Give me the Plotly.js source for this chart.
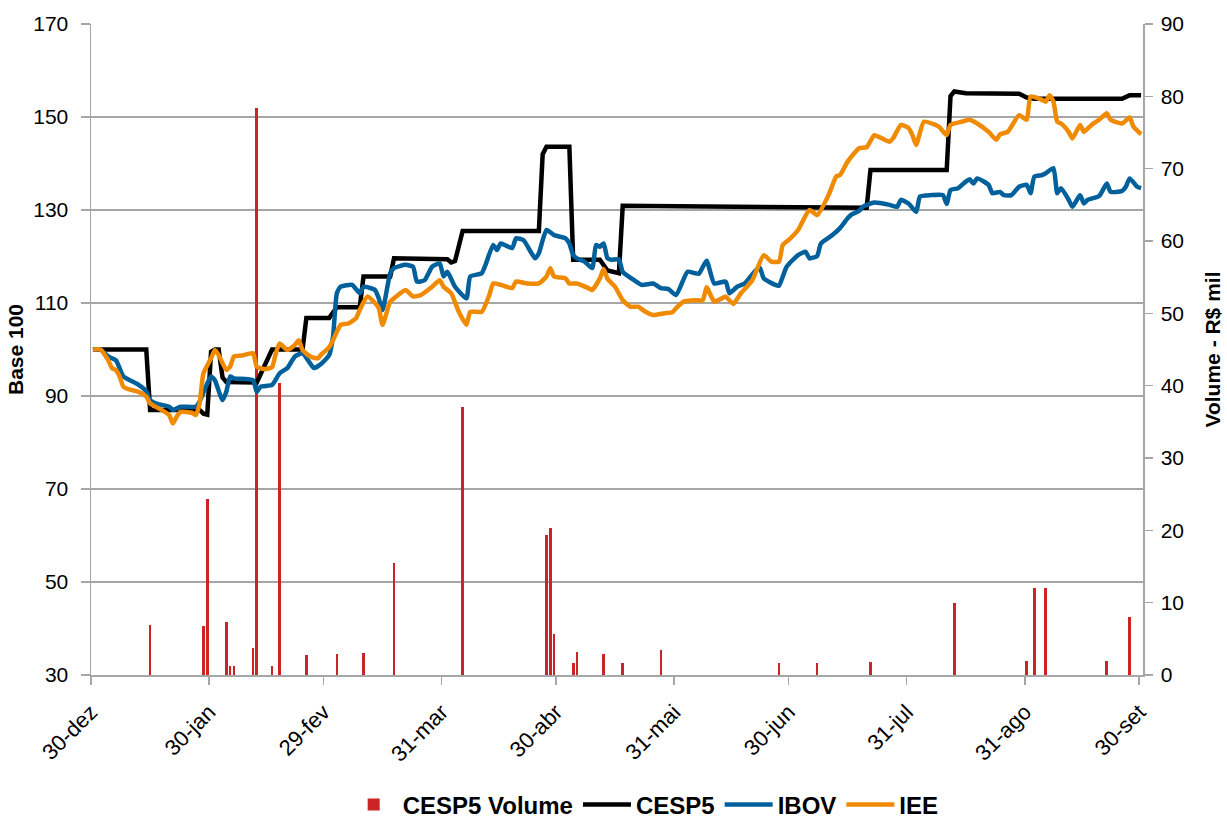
<!DOCTYPE html>
<html>
<head>
<meta charset="utf-8">
<script src="https://cdn.plot.ly/plotly-3.0.1.min.js"></script>
<style>html,body{margin:0;padding:0;background:#fff;}#chart{width:1227px;height:818px;}</style>
</head>
<body>
<div id="chart"></div>
<script>
// ---- Data ----
const tickDates = ['2011-12-30','2012-01-30','2012-02-29','2012-03-31','2012-04-30','2012-05-31','2012-06-30','2012-07-31','2012-08-31','2012-09-30'];
const tickLabels = ['30-dez','30-jan','29-fev','31-mar','30-abr','31-mai','30-jun','31-jul','31-ago','30-set'];

// CESP5 volume (R$ mil)
const volDates = ['2012-01-14','2012-01-28','2012-01-29','2012-02-03','2012-02-04','2012-02-05','2012-02-10','2012-02-11','2012-02-15','2012-02-17','2012-02-24','2012-03-03','2012-03-10','2012-03-18','2012-04-05','2012-04-27','2012-04-28','2012-04-29','2012-05-04','2012-05-05','2012-05-12','2012-05-17','2012-05-27','2012-06-27','2012-07-07','2012-07-21','2012-08-12','2012-08-31','2012-09-02','2012-09-05','2012-09-21','2012-09-27'];
const volValues = [6.9,6.8,24.3,7.3,1.3,1.3,3.7,78.4,1.3,40.4,2.8,2.9,3.1,15.5,37,19.3,20.3,5.7,1.6,3.2,2.9,1.7,3.4,1.7,1.7,1.8,10,2.0,12,12,2,8];

// CESP5 (base 100)
const cespDates = ['2011-12-30','2012-01-13','2012-01-14','2012-01-27','2012-01-28','2012-01-29','2012-01-30','2012-01-31','2012-02-01','2012-02-02','2012-02-03','2012-02-11','2012-02-15','2012-02-23','2012-02-24','2012-03-01','2012-03-03','2012-03-09','2012-03-10','2012-03-17','2012-03-18','2012-04-01','2012-04-02','2012-04-03','2012-04-05','2012-04-25','2012-04-26','2012-04-27','2012-05-03','2012-05-04','2012-05-11','2012-05-13','2012-05-16','2012-05-17','2012-07-20','2012-07-21','2012-08-10','2012-08-11','2012-08-12','2012-08-15','2012-08-29','2012-08-31','2012-09-02','2012-09-25','2012-09-27','2012-09-30'];
const cespValues = [100,100,87,87,86.2,86,99.5,100,100,94,93,92.9,100,100,106.8,106.8,109.1,109.1,115.7,115.7,119.6,119.4,118.7,119,125.5,125.5,142,143.6,143.6,119.3,119.3,117,116.4,130.9,130.5,138.6,138.6,154.5,155.5,155.1,155,154.2,153.9,153.9,154.7,154.7];

// IBOV (base 100)
const ibovDates = ['2011-12-30','2012-01-01','2012-01-03','2012-01-05','2012-01-06','2012-01-07','2012-01-11','2012-01-13','2012-01-14','2012-01-16','2012-01-19','2012-01-20','2012-01-22','2012-01-26','2012-01-27','2012-01-29','2012-01-30','2012-01-31','2012-02-02','2012-02-03','2012-02-04','2012-02-05','2012-02-10','2012-02-11','2012-02-12','2012-02-15','2012-02-17','2012-02-19','2012-02-21','2012-02-23','2012-02-25','2012-02-26','2012-02-28','2012-03-01','2012-03-02','2012-03-03','2012-03-04','2012-03-07','2012-03-09','2012-03-10','2012-03-13','2012-03-14','2012-03-15','2012-03-17','2012-03-18','2012-03-21','2012-03-23','2012-03-24','2012-03-26','2012-03-28','2012-03-30','2012-03-31','2012-04-01','2012-04-03','2012-04-06','2012-04-07','2012-04-10','2012-04-11','2012-04-13','2012-04-14','2012-04-15','2012-04-18','2012-04-19','2012-04-21','2012-04-24','2012-04-25','2012-04-27','2012-04-29','2012-05-02','2012-05-03','2012-05-04','2012-05-05','2012-05-07','2012-05-09','2012-05-10','2012-05-11','2012-05-12','2012-05-13','2012-05-14','2012-05-16','2012-05-17','2012-05-20','2012-05-22','2012-05-25','2012-05-27','2012-05-29','2012-05-31','2012-06-03','2012-06-05','2012-06-06','2012-06-08','2012-06-10','2012-06-13','2012-06-14','2012-06-16','2012-06-18','2012-06-21','2012-06-22','2012-06-23','2012-06-26','2012-06-27','2012-06-29','2012-07-02','2012-07-04','2012-07-05','2012-07-07','2012-07-08','2012-07-11','2012-07-13','2012-07-15','2012-07-16','2012-07-18','2012-07-19','2012-07-22','2012-07-26','2012-07-28','2012-07-29','2012-07-31','2012-08-02','2012-08-03','2012-08-06','2012-08-09','2012-08-10','2012-08-11','2012-08-13','2012-08-15','2012-08-16','2012-08-17','2012-08-18','2012-08-21','2012-08-22','2012-08-24','2012-08-25','2012-08-27','2012-08-29','2012-08-31','2012-09-01','2012-09-02','2012-09-04','2012-09-05','2012-09-07','2012-09-08','2012-09-09','2012-09-11','2012-09-12','2012-09-14','2012-09-15','2012-09-16','2012-09-19','2012-09-21','2012-09-22','2012-09-25','2012-09-26','2012-09-27','2012-09-29','2012-09-30'];
const ibovValues = [100,100,98.5,97.7,96,94.2,92.4,91,89.1,88.3,87.7,87,87.7,87.7,88.8,92.7,94.2,93.4,89.1,90.9,94.2,93.8,93.4,90.9,92,92.4,94.9,96,98.5,99.2,97,96,97,98.8,102.8,112.1,113.5,113.9,112.1,113.5,112.8,111,108.5,116.4,117.5,118.2,117.8,114.6,114.9,117.8,118.5,115.7,116.7,113.5,111,115.7,116.4,118.2,122.5,121.4,122.8,121.8,123.9,123.5,119.6,120.7,125.7,124.6,123.9,122.8,120.3,119.6,118.9,117.5,122.5,122.1,122.8,119.6,119.3,119.4,116.7,114.9,113.9,114.2,113.2,113,111.7,116.7,116.4,116.3,119.1,114.2,114.6,112.1,113.5,114.2,117.1,117.5,115.3,113.9,113.7,117.8,120.3,121,119.6,120.1,122.8,124.6,126.1,128.2,129,129.8,130.7,131.6,131.1,130.7,132.2,131.4,129.6,132.9,133.2,133.2,131.3,134.3,134.7,136.1,136.6,135.7,136.8,135.4,133.6,133.9,133.2,133.2,135,135.4,133.6,137.2,137.5,137.9,139,133.6,134.7,132.2,130.7,133.2,131.4,132.2,133,135.7,133.9,134.1,135,136.8,135,134.7];

// IEE (base 100)
const ieeDates = ['2011-12-30','2012-01-01','2012-01-03','2012-01-04','2012-01-05','2012-01-06','2012-01-07','2012-01-09','2012-01-11','2012-01-13','2012-01-14','2012-01-17','2012-01-19','2012-01-20','2012-01-21','2012-01-22','2012-01-25','2012-01-26','2012-01-27','2012-01-28','2012-01-30','2012-01-31','2012-02-01','2012-02-03','2012-02-04','2012-02-05','2012-02-07','2012-02-10','2012-02-11','2012-02-13','2012-02-15','2012-02-16','2012-02-17','2012-02-19','2012-02-21','2012-02-22','2012-02-23','2012-02-25','2012-02-27','2012-02-28','2012-03-01','2012-03-02','2012-03-04','2012-03-06','2012-03-08','2012-03-09','2012-03-11','2012-03-13','2012-03-14','2012-03-15','2012-03-17','2012-03-18','2012-03-21','2012-03-23','2012-03-25','2012-03-28','2012-03-30','2012-03-31','2012-04-02','2012-04-04','2012-04-06','2012-04-07','2012-04-10','2012-04-12','2012-04-13','2012-04-15','2012-04-18','2012-04-19','2012-04-22','2012-04-25','2012-04-27','2012-04-28','2012-04-29','2012-05-02','2012-05-03','2012-05-05','2012-05-08','2012-05-09','2012-05-11','2012-05-12','2012-05-13','2012-05-15','2012-05-17','2012-05-19','2012-05-21','2012-05-23','2012-05-25','2012-05-28','2012-05-30','2012-05-31','2012-06-02','2012-06-05','2012-06-07','2012-06-08','2012-06-10','2012-06-12','2012-06-13','2012-06-15','2012-06-17','2012-06-20','2012-06-23','2012-06-25','2012-06-27','2012-06-28','2012-06-30','2012-07-02','2012-07-05','2012-07-07','2012-07-10','2012-07-12','2012-07-13','2012-07-15','2012-07-18','2012-07-20','2012-07-22','2012-07-24','2012-07-26','2012-07-27','2012-07-29','2012-07-31','2012-08-01','2012-08-02','2012-08-04','2012-08-07','2012-08-08','2012-08-10','2012-08-11','2012-08-14','2012-08-16','2012-08-18','2012-08-21','2012-08-23','2012-08-24','2012-08-26','2012-08-29','2012-08-31','2012-09-01','2012-09-04','2012-09-05','2012-09-06','2012-09-07','2012-09-08','2012-09-09','2012-09-11','2012-09-12','2012-09-14','2012-09-15','2012-09-17','2012-09-19','2012-09-21','2012-09-22','2012-09-25','2012-09-27','2012-09-28','2012-09-30'];
const ieeValues = [100,100,97.7,96,95.6,94.2,92,91.3,90.9,89.9,88.4,87,85.9,84.1,85.6,86.6,86.4,85.9,88.4,94.9,98.1,99.9,98.8,95.6,96.3,98.5,98.7,99.2,96.3,95.8,96.2,99.2,101.3,99.9,101,102,99.9,98.5,98.1,99,100.5,102,105.3,105.6,106.7,108.5,111.4,110,108.9,105.3,110.3,111,112.8,111.4,111.7,113.5,114.9,113.5,112.1,108.1,105.3,108.1,108.1,111.7,114.2,113.9,113.2,114.6,114.2,114.2,115.7,117.5,115.7,115.3,114.2,114.2,113.2,112.8,115.3,117.3,115.2,113.5,110.6,109.2,109.2,108.1,107.4,107.8,108,108.9,110.3,110.6,110.6,113.4,110.3,111,111.4,109.8,112.1,114.9,120.3,118.9,118.9,122.5,123.9,125.7,130,128.9,133.2,137.2,137.5,140.4,143.3,143.5,146.1,145.4,144.7,145.5,148.3,147.6,146.1,144,149,148.3,147.9,146.1,148.3,149,149.4,148.6,146.8,145.1,146.3,146.8,150.4,149.4,154.4,153.7,153.3,154.7,153.3,149,148.6,146.8,145.4,148.3,146.8,148.3,149.4,150.8,149.4,148.6,149.9,147.9,146.3];

// Excel date axis "between tick marks": each day is drawn at the middle of its slot
const mid = arr => arr.map(d => d + ' 12:00');
const DAY = 86400000;

const FONT = 'Liberation Sans, Arial, sans-serif';
const GRID = '#a6a6a6';

const traces = [
  {type:'bar', name:'CESP5 Volume', x: mid(volDates), y: volValues, yaxis:'y',
   width: 0.7*DAY, marker:{color:'#cc2424', line:{width:0}}},
  {type:'scatter', mode:'lines', name:'CESP5', x: mid(cespDates), y: cespValues, yaxis:'y2',
   line:{color:'#000000', width:4.5}},
  {type:'scatter', mode:'lines', name:'IBOV', x: mid(ibovDates), y: ibovValues, yaxis:'y2',
   line:{color:'#00609c', width:4.5, shape:'spline', smoothing:0.5}},
  {type:'scatter', mode:'lines', name:'IEE', x: mid(ieeDates), y: ieeValues, yaxis:'y2',
   line:{color:'#f08a00', width:4.5, shape:'spline', smoothing:0.5}}
];

const layout = {
  width:1227, height:818,
  margin:{l:91, r:84, t:24, b:143, pad:0, autoexpand:false},
  paper_bgcolor:'#ffffff', plot_bgcolor:'#ffffff',
  font:{family:FONT, size:21, color:'#000'},
  showlegend:true,
  legend:{orientation:'h', xref:'container', yref:'container', x:0.525, xanchor:'center', y:0.016, yanchor:'middle',
          font:{family:FONT, size:24, color:'#000', weight:'bold'}, itemwidth:48, tracegroupgap:0},
  bargap:0,
  xaxis:{type:'date', automargin:false, range:['2011-12-30','2012-10-01'], tickmode:'array', tickvals:tickDates, ticktext:tickLabels,
         tickangle:-45, ticks:'outside', ticklen:8, tickcolor:GRID, tickwidth:1.5, ticklabelstandoff:6,
         showgrid:false, showline:true, linecolor:GRID, linewidth:1.5, zeroline:false,
         tickfont:{family:FONT, size:22}},
  yaxis:{side:'right', automargin:false, range:[0,90], dtick:10, tick0:0, ticks:'outside', ticklen:8, tickcolor:GRID, tickwidth:1.5,
         showgrid:false, showline:true, linecolor:GRID, linewidth:1.5, zeroline:false, ticklabelstandoff:4,
         tickfont:{family:FONT, size:21},
         title:{text:'Volume - R$ mil', font:{family:FONT, size:21, weight:'bold'}, standoff:22}},
  yaxis2:{overlaying:'y', side:'left', automargin:false, range:[30,170], dtick:20, tick0:30, ticks:'outside', ticklen:9, tickcolor:GRID, tickwidth:1.5,
          showgrid:true, gridcolor:GRID, gridwidth:1.5, showline:true, linecolor:GRID, linewidth:1.5, zeroline:false, ticklabelstandoff:8,
          tickfont:{family:FONT, size:21},
          title:{text:'Base 100', font:{family:FONT, size:21, weight:'bold'}, standoff:4}}
};

Plotly.newPlot('chart', traces, layout, {displayModeBar:false, staticPlot:true});
</script>
</body>
</html>
